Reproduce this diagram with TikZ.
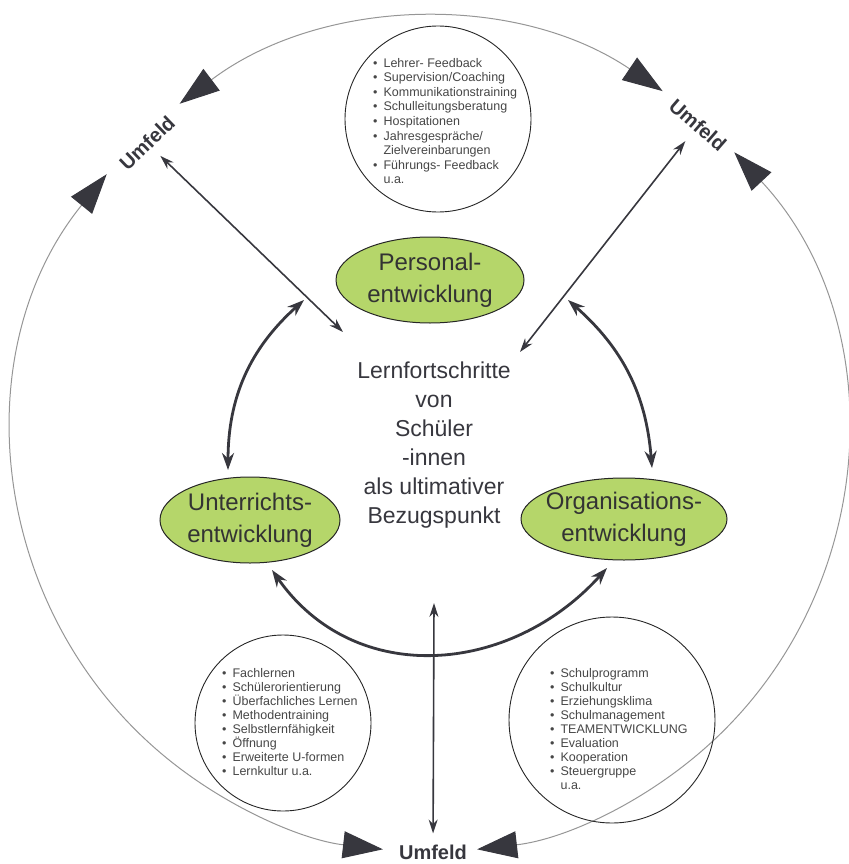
\documentclass[tikz,border=0pt]{standalone}
\usepackage{fontspec}
\setmainfont{Liberation Sans}
\usetikzlibrary{arrows.meta,shapes.geometric}
\definecolor{feldgruen}{RGB}{181,214,106}
\definecolor{dunkelgrau}{RGB}{55,55,62}
\definecolor{kreisgrau}{RGB}{150,150,150}
\definecolor{listengrau}{RGB}{70,70,70}
\newcommand{\punkt}{\textbullet\hspace{6pt}}
\newcommand{\einzug}{\phantom{\textbullet\hspace{6pt}}}

\begin{document}
\begin{tikzpicture}[x=1pt,y=1pt]
\tikzset{feld/.style = {shape=ellipse, draw=black!85, line width=1pt, fill=feldgruen, text=black!80, align=center, inner xsep=-10pt, inner ysep=0pt, font=\fontsize{24}{32}\selectfont}}
\tikzset{infokreis/.style = {shape=circle, draw=black!85, line width=0.9pt, inner sep=0pt}}
\tikzset{liste/.style = {align=left, anchor=west, text=listengrau, inner sep=0pt}}
\tikzset{umfeld/.style = {font=\fontsize{20}{24}\selectfont\bfseries, text=dunkelgrau, inner sep=3pt}}
\tikzset{umfeldbogen/.style = {draw=kreisgrau, line width=1pt, {Triangle[length=40pt,width=27pt,color=dunkelgrau]}-{Triangle[length=40pt,width=27pt,color=dunkelgrau]}}}
\tikzset{bogen/.style = {draw=dunkelgrau, line width=2.8pt, {Stealth[length=17pt,width=12pt]}-{Stealth[length=17pt,width=12pt]}}}
\tikzset{pfeil/.style = {draw=dunkelgrau, line width=1.6pt, {Stealth[length=14pt,width=9pt]}-{Stealth[length=14pt,width=9pt]}}}

\useasboundingbox (0,0) rectangle (848,-864);

% Umfeld am Rand
\coordinate (M) at (430,-436);
\node[umfeld, rotate=44] (uTL) at (147,-143) {Umfeld};
\node[umfeld, rotate=-41] (uTR) at (698,-125) {Umfeld};
\node[umfeld] (uU) at (433,-852) {Umfeld};

% grosser Kreis in drei Boegen
\coordinate (obenA) at ([shift={(127:416)}]M);
\coordinate (linksA) at ([shift={(141:416)}]M);
\coordinate (rechtsA) at ([shift={(43:416)}]M);
\draw[umfeldbogen] (obenA) arc[start angle=127, end angle=56, radius=416pt];
\draw[umfeldbogen] (linksA) arc[start angle=141, end angle=263.5, radius=416pt];
\draw[umfeldbogen] (rechtsA) arc[start angle=43, end angle=-83.5, radius=416pt];

% Kreise mit Stichpunkten
\node[infokreis, minimum size=186pt] (kPers) at (438,-119) {};
\node[infokreis, minimum size=176pt] (kUnt) at (283,-723) {};
\node[infokreis, minimum size=206pt] (kOrg) at (612,-720) {};

\node[liste, font=\fontsize{12.5}{14.6}\selectfont] (lPers) at (373,-121) {\punkt Lehrer- Feedback\\ \punkt Supervision/Coaching\\ \punkt Kommunikationstraining\\ \punkt Schulleitungsberatung\\ \punkt Hospitationen\\ \punkt Jahresgespräche/\\ \einzug Zielvereinbarungen\\ \punkt Führungs- Feedback\\ \einzug u.a.};
\node[liste, font=\fontsize{12.5}{13.9}\selectfont] (lUnt) at (222,-722) {\punkt Fachlernen\\ \punkt Schülerorientierung\\ \punkt Überfachliches Lernen\\ \punkt Methodentraining\\ \punkt Selbstlernfähigkeit\\ \punkt Öffnung\\ \punkt Erweiterte U-formen\\ \punkt Lernkultur u.a.};
\node[liste, font=\fontsize{12.5}{14}\selectfont] (lOrg) at (550,-729) {\punkt Schulprogramm\\ \punkt Schulkultur\\ \punkt Erziehungsklima\\ \punkt Schulmanagement\\ \punkt TEAMENTWICKLUNG\\ \punkt Evaluation\\ \punkt Kooperation\\ \punkt Steuergruppe\\ \einzug u.a.};

% die drei Entwicklungen
\node[feld, minimum width=188pt, minimum height=86pt] (pers) at (430,-280) {Personal-\\entwicklung};
\node[feld, minimum width=180pt, minimum height=86pt] (unt) at (250,-520) {Unterrichts-\\entwicklung};
\node[feld, minimum width=206pt, minimum height=82pt] (org) at (624,-519) {Organisations-\\entwicklung};

\node[align=center, text=dunkelgrau, font=\fontsize{23}{29}\selectfont] (ziel) at (434,-445) {Lernfortschritte\\von\\Schüler\\-innen\\als ultimativer\\Bezugspunkt};

% Pfeile
\coordinate (lo) at (304,-300);
\coordinate (lu) at (228,-470);
\coordinate (ro) at (568,-300);
\coordinate (ru) at (652,-468);
\coordinate (ul) at (272,-570);
\coordinate (ur) at (607,-568);
\coordinate (tlInnen) at (343,-332);
\coordinate (trInnen) at (520,-352);
\coordinate (mitteUnten) at (434,-603);

\draw[bogen] (lu) to[bend left=24] (lo);
\draw[bogen] (ro) to[bend left=22] (ru);
\draw[bogen] (ul) to[out=-55, in=-132, looseness=1.1] (ur);
\draw[pfeil, shorten <=8pt] (uTL) -- (tlInnen);
\draw[pfeil, shorten <=10pt] (uTR) -- (trInnen);
\draw[pfeil, shorten >=8pt] (mitteUnten) -- (uU);
\end{tikzpicture}
\end{document}
